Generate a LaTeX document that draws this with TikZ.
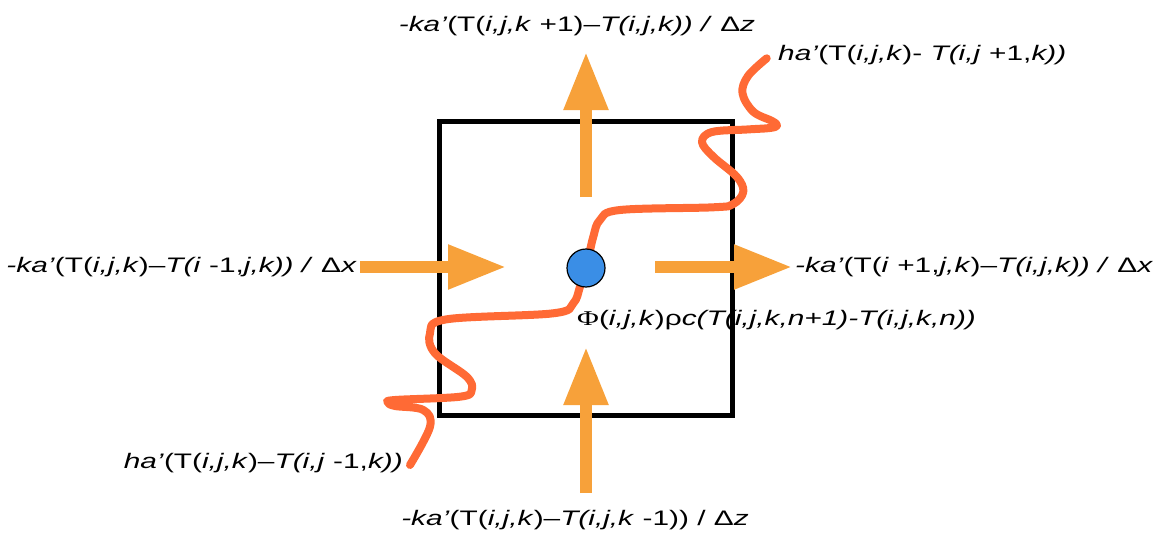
\documentclass[tikz,border=0pt]{standalone}
\usepackage{graphicx}
\usepackage{fontspec}
\setmainfont{Liberation Sans}
\newfontfamily\phifont{Liberation Serif}
\usetikzlibrary{arrows.meta}
\definecolor{flux}{HTML}{F7A13A}
\definecolor{wave}{HTML}{FF6A35}
\definecolor{dot}{HTML}{3A8EE6}
\newcommand{\I}[1]{\textit{#1}}
\newcommand{\W}[1]{\scalebox{1.42}[1]{#1}}
\tikzset{
  fluxarrow/.style={draw=flux, line width=11.5pt, -{Triangle[width=42pt,length=58pt,fill=flux]}},
  lbl/.style={font=\fontsize{21}{25}\selectfont, inner sep=0pt},
  cellbox/.style={draw=black, line width=5pt},
  wavy/.style={draw=wave, line width=8pt, line cap=round, line join=round},
  centre/.style={circle, draw=black, line width=1.2pt, fill=dot, minimum size=38pt, inner sep=0pt}
}
\begin{document}
\begin{tikzpicture}[x=1pt,y=-1pt]
\useasboundingbox (0,0) rectangle (1173,543);
% cell
\draw[cellbox] (439,121) rectangle (732,415);
% coordinates for flux arrows
\coordinate (ttail) at (586,197);
\coordinate (thead) at (586,52);
\coordinate (ltail) at (360,267);
\coordinate (lhead) at (506,267);
\coordinate (rtail) at (655,267);
\coordinate (rhead) at (792,267);
\coordinate (btail) at (586,493);
\coordinate (bhead) at (586,347);
\draw[fluxarrow] (ttail) -- (thead);
\draw[fluxarrow] (ltail) -- (lhead);
\draw[fluxarrow] (rtail) -- (rhead);
\draw[fluxarrow] (btail) -- (bhead);
% wave
\draw[wavy] plot[smooth, tension=0.6] coordinates {
 (766.7,58.3) (748,76) (742.5,93.3) (753.3,111.7) (772,121) (777,125.5) (770,128)
 (746.7,129.5) (712,132) (702,142) (713.3,156.7) (736.7,176.7) (743.3,191.7)
 (733.3,204) (713.3,207.3) (620,210) (600,220) (593.3,236.7) (586,268)
 (580,286.7) (573.3,303.3) (553.3,313.3) (446.7,319.3) (430,333.3) (435,353.3)
 (466.7,376.7) (471.7,390) (460,396.7) (395,400) (388,402.5) (395,406) (423.3,410)
 (430,426.7) (410,465)};
% centre point
\node[centre] (c) at (586,268) {};
% labels
\node[lbl] (top) at (577,26) {\W{\I{-ka’}(T(\I{i,j,k} +1)–\I{T(i,j,k)) /} Δ\I{z}}};
\node[lbl, anchor=west] (tr) at (778,55) {\W{\I{ha’}(T(\I{i,j,k})- \I{T(i,j} +1,\I{k))}}};
\node[lbl, anchor=east] (left) at (357,267) {\W{\I{-ka’}(T(\I{i,j,k})–\I{T(i} -1,\I{j,k)) /} Δ\I{x}}};
\node[lbl, anchor=west] (right) at (795,267) {\W{\I{-ka’}(T(\I{i} +1,\I{j,k})–\I{T(i,j,k)) /} Δ\I{x}}};
\node[lbl, anchor=west] (cap) at (577,320) {\W{{\phifont Φ}(\I{i,j,k})ρ\I{c(T(i,j,k,n+1)-T(i,j,k,n))}}};
\node[lbl, anchor=east] (bl) at (403,463) {\W{\I{ha’}(T(\I{i,j,k})–\I{T(i,j} -1,\I{k))}}};
\node[lbl] (bot) at (575,520) {\W{\I{-ka’}(T(\I{i,j,k})–\I{T(i,j,k} -1)) / Δ\I{z}}};
\end{tikzpicture}
\end{document}
